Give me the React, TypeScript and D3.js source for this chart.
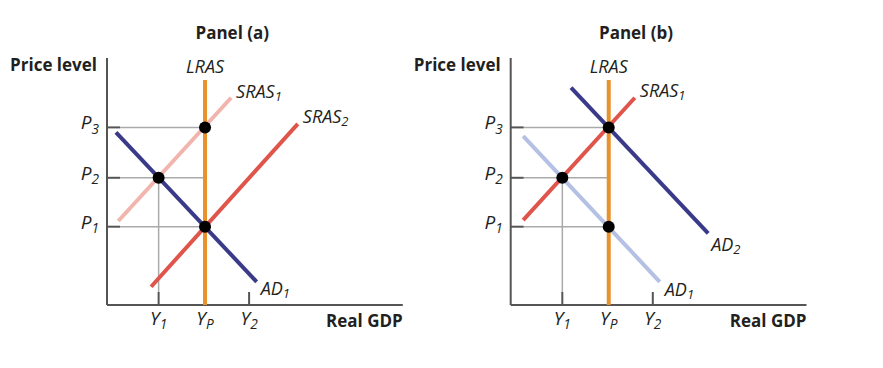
import React from 'react';
import * as d3 from 'd3';

// output (Y) and price (P) levels, shared by both panels
const yLevels = [
  { name: 'Y', sub: '1', value: 1.78 },
  { name: 'Y', sub: 'P', value: 3.38 },
  { name: 'Y', sub: '2', value: 4.9 },
];
const pLevels = [
  { name: 'P', sub: '1', value: 3.17 },
  { name: 'P', sub: '2', value: 5.15 },
  { name: 'P', sub: '3', value: 7.19 },
];

// curves: straight segments, [x0, y0, x1, y1] in data units
const panelACurves = [
  { id: 'SRAS1', label: 'SRAS', sub: '1', color: '#f2b5ad', pts: [0.39, 3.4, 4.28, 8.39], off: [5, -5] },
  { id: 'SRAS2', label: 'SRAS', sub: '2', color: '#e0554b', pts: [1.52, 0.74, 6.58, 7.33], off: [5, -6] },
  { id: 'AD1', label: 'AD', sub: '1', color: '#3a3a8a', pts: [0.31, 6.99, 5.16, 0.94], off: [4, 8] },
];
const panelBCurves = [
  { id: 'AD1', label: 'AD', sub: '1', color: '#b4c0e4', pts: [0.43, 6.84, 5.14, 0.94], off: [5, 9] },
  { id: 'SRAS1', label: 'SRAS', sub: '1', color: '#e0554b', pts: [0.43, 3.44, 4.28, 8.39], off: [5, -6] },
  { id: 'AD2', label: 'AD', sub: '2', color: '#3a3a8a', pts: [2.08, 8.8, 6.81, 2.9], off: [3, 13] },
];

// equilibrium points: [Y index, P index]
const panelAPoints = [[1, 2], [0, 1], [1, 0]];
const panelBPoints = [[1, 2], [0, 1], [1, 0]];

// guide lines: [Y index, P index] -> horizontal from axis to Y
const panelAGuides = [[1, 2], [1, 1], [1, 0]];
const panelBGuides = [[1, 2], [1, 1], [1, 0]];
const panelAVert = [0];
const panelBVert = [0];

const lrasTop = 9.11;

const W = 883;
const H = 368;
const italic = "'Open Sans', 'DejaVu Sans', sans-serif";
const bold = "'Open Sans', 'DejaVu Sans', sans-serif";
const ink = '#231f20';

type Curve = typeof panelACurves[number];

interface PanelProps {
  title: string;
  left: number;
  axisEnd: number;
  curves: Curve[];
  points: number[][];
  guides: number[][];
  verts: number[];
}

const Sym: React.FC<{ x: number; y: number; name: string; sub: string; size: number; anchor?: string }> = ({ x, y, name, sub, size, anchor = 'start' }) => (
  <text x={x} y={y} fontFamily={italic} fontStyle="italic" fontSize={size} fill={ink} textAnchor={anchor} dominantBaseline="middle">
    {name}
    <tspan fontSize={size * 0.72} dy={size * 0.28}>{sub}</tspan>
  </text>
);

const Panel: React.FC<PanelProps> = ({ title, left, axisEnd, curves, points, guides, verts }) => {
  const x = d3.scaleLinear().domain([0, 10]).range([left, left + 290]);
  const y = d3.scaleLinear().domain([0, 10]).range([305, 58]);
  const yp = yLevels[1].value;

  return (
    <g>
      <text x={x(4.32)} y={34} textAnchor="middle" dominantBaseline="middle" fontFamily={bold} fontWeight="bold" fontSize={17} fill={ink}>{title}</text>
      <text x={left - 10} y={66} textAnchor="end" dominantBaseline="middle" fontFamily={bold} fontWeight="bold" fontSize={17} fill={ink}>Price level</text>
      <text x={x(axisEnd)} y={322} textAnchor="end" dominantBaseline="middle" fontFamily={bold} fontWeight="bold" fontSize={17} fill={ink}>Real GDP</text>

      {/* guides */}
      {guides.map(([yi, pi], i) => (
        <line key={'g' + i} x1={x(0) + 13} x2={x(yLevels[yi].value)} y1={y(pLevels[pi].value)} y2={y(pLevels[pi].value)} stroke="#aaa" strokeWidth={1.5} />
      ))}
      {verts.map(yi => (
        <line key={'v' + yi} x1={x(yLevels[yi].value)} x2={x(yLevels[yi].value)} y1={y(pLevels[1].value)} y2={y(0) - 13} stroke="#aaa" strokeWidth={1.5} />
      ))}

      {/* axes */}
      <line x1={x(0)} x2={x(0)} y1={y(10)} y2={y(0)} stroke="#555" strokeWidth={2} />
      <line x1={x(0)} x2={x(axisEnd)} y1={y(0)} y2={y(0)} stroke="#555" strokeWidth={2} />
      {pLevels.map(p => (
        <g key={p.sub}>
          <line x1={x(0)} x2={x(0) + 13} y1={y(p.value)} y2={y(p.value)} stroke="#555" strokeWidth={2} />
          <Sym x={x(0) - 8} y={y(p.value) - 3} name={p.name} sub={p.sub} size={19} anchor="end" />
        </g>
      ))}
      {yLevels.map(l => (
        <g key={l.sub}>
          {l.sub !== 'P' && <line x1={x(l.value)} x2={x(l.value)} y1={y(0)} y2={y(0) - 13} stroke="#555" strokeWidth={2} />}
          <Sym x={x(l.value)} y={y(0) + 15} name={l.name} sub={l.sub} size={19} anchor="middle" />
        </g>
      ))}

      {/* LRAS */}
      <line x1={x(yp)} x2={x(yp)} y1={y(0)} y2={y(lrasTop)} stroke="#e8912d" strokeWidth={4} />
      <text x={x(yp)} y={68} textAnchor="middle" dominantBaseline="middle" fontFamily={italic} fontStyle="italic" fontSize={18} fill={ink}>LRAS</text>

      {/* curves */}
      {curves.map(c => {
        const [x0, y0, x1, y1] = c.pts;
        const line = d3.line<number[]>().x(d => x(d[0])).y(d => y(d[1]));
        const endX = x(x1);
        const endY = y(y1);
        return (
          <g key={c.id}>
            <path d={line([[x0, y0], [x1, y1]]) || ''} stroke={c.color} strokeWidth={4} fill="none" />
            <Sym x={endX + c.off[0]} y={endY + c.off[1]} name={c.label} sub={c.sub} size={18} />
          </g>
        );
      })}

      {/* equilibrium points */}
      {points.map(([yi, pi], i) => (
        <circle key={'p' + i} cx={x(yLevels[yi].value)} cy={y(pLevels[pi].value)} r={6} fill="#000" />
      ))}
    </g>
  );
};

export default function App() {
  return (
    <svg width={W} height={H} style={{ position: 'absolute', left: 0, top: 0, background: '#fff' }}>
      <Panel title="Panel (a)" left={107} axisEnd={10.2} curves={panelACurves} points={panelAPoints} guides={panelAGuides} verts={panelAVert} />
      <Panel title="Panel (b)" left={510.7} axisEnd={10.2} curves={panelBCurves} points={panelBPoints} guides={panelBGuides} verts={panelBVert} />
    </svg>
  );
}
